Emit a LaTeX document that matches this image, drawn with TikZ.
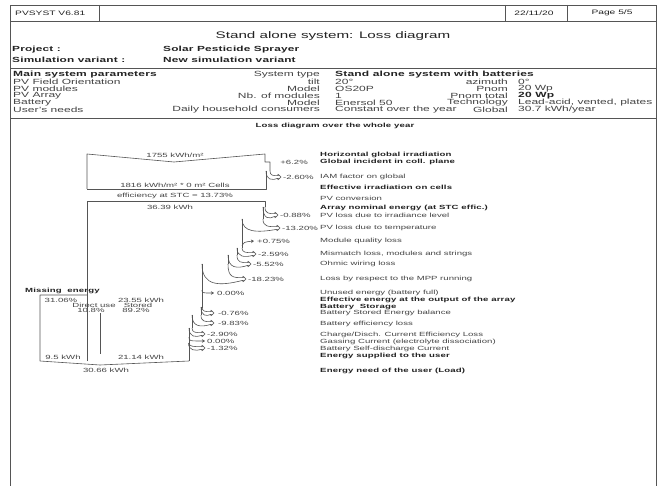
\documentclass[tikz,border=0pt]{standalone}
\usepackage{fontspec}
\setmainfont{Liberation Sans}[FakeStretch=1.6]
\newfontfamily\spbold{Liberation Sans}[FakeStretch=1.6, LetterSpace=2.5]
\usetikzlibrary{arrows.meta}
\definecolor{ink}{HTML}{222222}
\definecolor{soft}{HTML}{444444}
\definecolor{edge}{HTML}{555555}
\tikzset{
  flow/.style={draw=edge, line width=0.6pt, line join=round},
  frame/.style={draw=edge, line width=0.7pt},
  txt/.style={inner sep=0pt, text=soft, font=\fontsize{6}{7}\selectfont},
  btxt/.style={inner sep=0pt, text=ink, font=\fontsize{6}{7}\spbold\bfseries},
  ptxt/.style={inner sep=0pt, text=soft, font=\fontsize{7.5}{8}\selectfont},
  pbtxt/.style={inner sep=0pt, text=ink, font=\fontsize{7.5}{8}\spbold\bfseries},
  prtxt/.style={inner sep=0pt, text=ink, font=\fontsize{7.4}{8}\spbold\bfseries},
  hdtxt/.style={inner sep=0pt, text=ink, font=\fontsize{6.4}{8}\selectfont},
  tip/.style={-{Stealth[length=3pt,width=3.5pt]}},
}
% loss band leaving the right edge of the flow:
% #1 new edge x, #2 old edge x, #3 start y, #4 tip x, #5 tip y
\newcommand\lossband[5]{%
  \draw[flow] (#2,#3) .. controls (#2,#5-1.3) and ({#2+0.3*(#4-#2)},#5-1.3) .. (#4-3,#5-1.3)
    -- (#4-3,#5-2.8) -- (#4,#5) -- (#4-3,#5+2.8) -- (#4-3,#5+1.3)
    .. controls ({#1+0.4*(#4-#1)},{#5+1.3+0.4*(#5-#3)}) and (#1,{#5+0.5*(#5-#3)}) .. (#1,#3);}
\begin{document}
\begin{tikzpicture}[x=1pt,y=-1pt]
\useasboundingbox (0,0) rectangle (669,486);
\fill[white] (0,0) rectangle (669,486);

% page frame and header bar
\draw[frame] (10,5) rectangle (656,21);
\draw[frame] (99,5) -- (99,21) (505,5) -- (505,21) (567,5) -- (567,21);
\draw[frame] (10,21) -- (10,486) (656,21) -- (656,486);
\node[hdtxt, anchor=west] (hdsoft) at (15,13) {PVSYST V6.81};
\node[hdtxt] (hddate) at (534,13) {22/11/20};
\node[hdtxt] (hdpage) at (612,13) {Page 5/5};

\node[inner sep=0pt, text=ink, font=\fontsize{9.5}{12}\selectfont] (title) at (333,36) {Stand alone system: Loss diagram};
\node[prtxt, anchor=west] (prj) at (12,50) {Project :};
\node[prtxt, anchor=west] (prjv) at (163,50) {Solar Pesticide Sprayer};
\node[prtxt, anchor=west] (var) at (12,60) {Simulation variant :};
\node[prtxt, anchor=west] (varv) at (163,60) {New simulation variant};
\draw[frame] (10,68) -- (656,68);

% main parameters
\node[pbtxt, anchor=west] (mp) at (13,75) {Main system parameters};
\node[ptxt, anchor=east] (mpa) at (320,75) {System type};
\node[pbtxt, anchor=west] (mpb) at (335,75) {Stand alone system with batteries};
\node[ptxt, anchor=west] (r1a) at (13,82) {PV Field Orientation};
\node[ptxt, anchor=east] (r1b) at (320,82) {tilt};
\node[ptxt, anchor=west] (r1c) at (335,82) {20°};
\node[ptxt, anchor=east] (r1d) at (508,82) {azimuth};
\node[ptxt, anchor=west] (r1e) at (518,82) {0°};
\node[ptxt, anchor=west] (r2a) at (13,89) {PV modules};
\node[ptxt, anchor=east] (r2b) at (320,89) {Model};
\node[ptxt, anchor=west] (r2c) at (335,89) {OS20P};
\node[ptxt, anchor=east] (r2d) at (508,89) {Pnom};
\node[ptxt, anchor=west] (r2e) at (518,89) {20 Wp};
\node[ptxt, anchor=west] (r3a) at (13,96) {PV Array};
\node[ptxt, anchor=east] (r3b) at (320,96) {Nb. of modules};
\node[ptxt, anchor=west] (r3c) at (335,96) {1};
\node[ptxt, anchor=east] (r3d) at (508,96) {Pnom total};
\node[pbtxt, anchor=west] (r3e) at (518,96) {20 Wp};
\node[ptxt, anchor=west] (r4a) at (13,103) {Battery};
\node[ptxt, anchor=east] (r4b) at (320,103) {Model};
\node[ptxt, anchor=west] (r4c) at (335,103) {Enersol 50};
\node[ptxt, anchor=east] (r4d) at (508,103) {Technology};
\node[ptxt, anchor=west] (r4e) at (518,103) {Lead-acid, vented, plates};
\node[ptxt, anchor=west] (r5a) at (13,110) {User's needs};
\node[ptxt, anchor=east] (r5b) at (320,110) {Daily household consumers};
\node[ptxt, anchor=west] (r5c) at (335,110) {Constant over the year};
\node[ptxt, anchor=east] (r5d) at (508,110) {Global};
\node[ptxt, anchor=west] (r5e) at (518,110) {30.7 kWh/year};
\draw[frame] (10,118) -- (656,118);
\node[btxt] (ldtitle) at (335,126) {Loss diagram over the whole year};

% ---- irradiation block ----
\draw[flow] (87,189) -- (87,154) -- (174,162) -- (265,154) -- (265,162) -- (270,162) -- (270,171);
\lossband{266}{270}{171}{281}{177}
\draw[flow] (266,171) -- (266,189) -- (87,189);
\node[txt] (irr) at (175,155) {1755 kWh/m²};
\node[txt] (cells) at (175,185) {1816 kWh/m² * 0 m² Cells};
\node[txt] (effstc) at (175,196) {efficiency at STC = 13.73\%};

% ---- PV array block ----
\draw[flow] (87,361) -- (87,201) -- (265,201) -- (265,207);
\lossband{263}{265}{207}{278}{215}
\draw[flow] (263,207) -- (263,219);
\lossband{242}{263}{219}{280}{228}
\draw[flow] (242,219) -- (242,248);
\draw[flow, tip] (242,246) .. controls (244,242) .. (254,241);
\lossband{237}{242}{248}{256}{254}
\draw[flow] (237,248) -- (237,255);
\lossband{228}{237}{255}{251}{264}
\draw[flow] (228,255) -- (228,264);
\lossband{202}{228}{264}{246}{279}
\draw[flow] (202,264) -- (202,308);
\draw[flow, tip] (202,290) .. controls (202,293) .. (214,293);
\lossband{201}{202}{307}{214}{313}
\draw[flow] (201,307) -- (201,315);
\lossband{192}{201}{315}{214}{323}
\draw[flow] (192,315) -- (192,328);
\lossband{189}{192}{328}{205}{334}
\draw[flow, tip] (189,337) .. controls (189,341) .. (205,341);
\lossband{188.5}{189}{343}{205}{348}
\draw[flow] (189,328) -- (189,361);

\node[txt] (kwh) at (170,207) {36.39 kWh};

% ---- user side ----
\draw[flow] (87,295) -- (40,295) -- (40,361) -- (100,365) -- (189,361);
\draw[flow] (100,313) -- (100,354);
\node[btxt, anchor=west] (miss) at (25,291) {Missing\ \ energy};
\node[txt] (mpct) at (61,300) {31.06\%};
\node[txt] (stkwh) at (141,300) {23.55 kWh};
\node[txt] (duse) at (94,305) {Direct use};
\node[txt] (dpct) at (91,310) {10.8\%};
\node[txt] (stor) at (138,305) {Stored};
\node[txt] (spct) at (136,310) {89.2\%};
\node[txt] (dkwh) at (63,357) {9.5 kWh};
\node[txt] (skwh) at (141,357) {21.14 kWh};
\node[txt] (need) at (106,370) {30.66 kWh};

% ---- percentages ----
\node[txt, anchor=east] (p01) at (308,162) {+6.2\%};
\node[txt, anchor=west] (p02) at (283,177) {-2.60\%};
\node[txt, anchor=west] (p03) at (280,215) {-0.88\%};
\node[txt, anchor=west] (p04) at (282,228) {-13.20\%};
\node[txt, anchor=west] (p05) at (257,241) {+0.75\%};
\node[txt, anchor=west] (p06) at (258,254) {-2.59\%};
\node[txt, anchor=west] (p07) at (253,264) {-5.52\%};
\node[txt, anchor=west] (p08) at (248,279) {-18.23\%};
\node[txt, anchor=west] (p09) at (217,293) {0.00\%};
\node[txt, anchor=west] (p10) at (218,313) {-0.76\%};
\node[txt, anchor=west] (p11) at (218,323) {-9.83\%};
\node[txt, anchor=west] (p12) at (207,334) {-2.90\%};
\node[txt, anchor=west] (p13) at (207,341) {0.00\%};
\node[txt, anchor=west] (p14) at (207,348) {-1.32\%};

% ---- step labels ----
\node[btxt, anchor=west] (l01) at (320,155) {Horizontal global irradiation};
\node[btxt, anchor=west] (l02) at (320,162) {Global incident in coll. plane};
\node[txt, anchor=west] (l03) at (320,177) {IAM factor on global};
\node[btxt, anchor=west] (l04) at (320,187) {Effective irradiation on cells};
\node[txt, anchor=west] (l05) at (320,198) {PV conversion};
\node[btxt, anchor=west] (l06) at (320,208) {Array nominal energy (at STC effic.)};
\node[txt, anchor=west] (l07) at (320,215) {PV loss due to irradiance level};
\node[txt, anchor=west] (l08) at (320,228) {PV loss due to temperature};
\node[txt, anchor=west] (l09) at (320,241) {Module quality loss};
\node[txt, anchor=west] (l10) at (320,254) {Mismatch loss, modules and strings};
\node[txt, anchor=west] (l11) at (320,264) {Ohmic wiring loss};
\node[txt, anchor=west] (l12) at (320,279) {Loss by respect to the MPP running};
\node[txt, anchor=west] (l13) at (320,293) {Unused energy (battery full)};
\node[btxt, anchor=west] (l14) at (320,300) {Effective energy at the output of the array};
\node[btxt, anchor=west] (l15) at (320,307) {Battery\ \ Storage};
\node[txt, anchor=west] (l16) at (320,313) {Battery Stored Energy balance};
\node[txt, anchor=west] (l17) at (320,324) {Battery efficiency loss};
\node[txt, anchor=west] (l18) at (320,335) {Charge/Disch. Current Efficiency Loss};
\node[txt, anchor=west] (l19) at (320,342) {Gassing Current (electrolyte dissociation)};
\node[txt, anchor=west] (l20) at (320,349) {Battery Self-discharge Current};
\node[btxt, anchor=west] (l21) at (320,356) {Energy supplied to the user};
\node[btxt, anchor=west] (l22) at (320,371) {Energy need of the user (Load)};
\end{tikzpicture}
\end{document}
